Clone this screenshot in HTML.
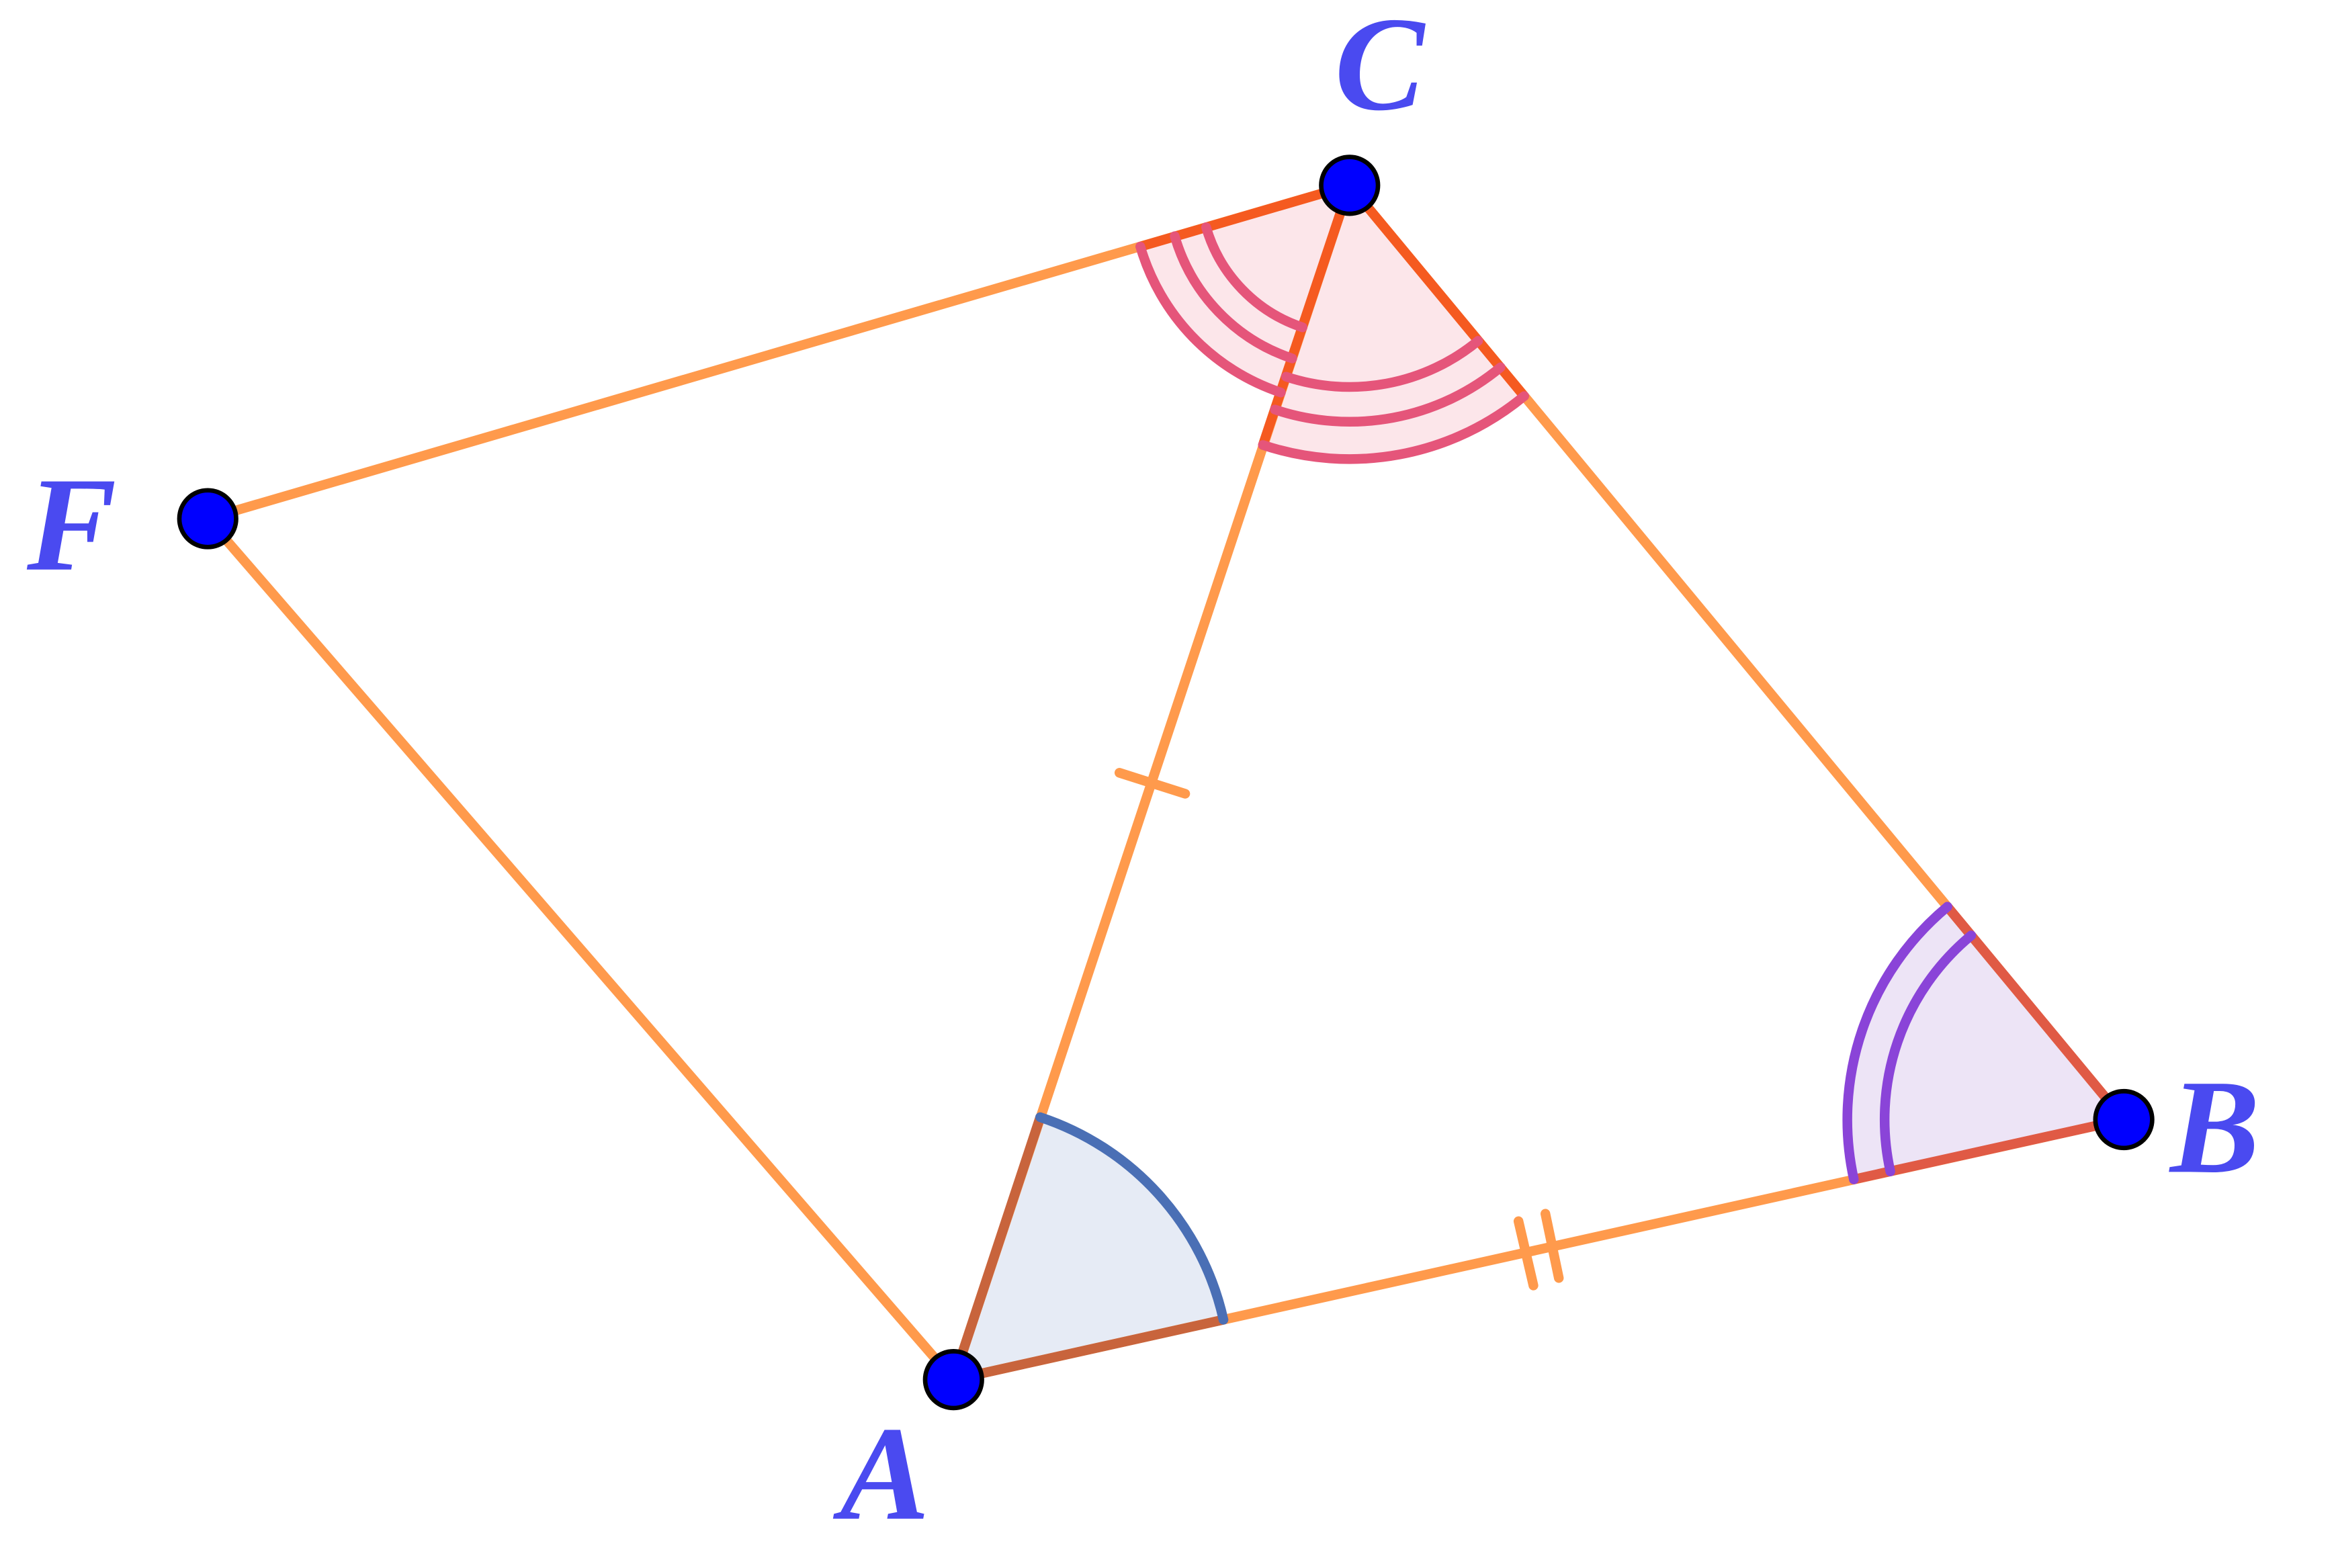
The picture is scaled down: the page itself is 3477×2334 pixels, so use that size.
<!DOCTYPE html>
<html><head><style>html,body{margin:0;padding:0;background:#fff}svg{display:block}</style></head>
<body>
<svg width="3477" height="2334" viewBox="0 0 1563 1049" preserveAspectRatio="none" xmlns="http://www.w3.org/2000/svg">
<g stroke-linecap="round" fill="none">
<path d="M638,923 L696,747.4 A185,185 0 0 1 818.6,882.9 Z" fill="#e6ebf5" stroke="none"/>
<path d="M1421,749 L1303,606.6 A185,185 0 0 0 1240.4,789 Z" fill="#ede4f6" stroke="none"/>
<path d="M903,124 L763,165 A146,146 0 0 0 857,262.6 Z" fill="#fce6ea" stroke="none"/>
<path d="M903,124 L845,297.7 A183,183 0 0 0 1019.8,265 Z" fill="#fce6ea" stroke="none"/>
<g stroke="#ff9a4c" stroke-width="6.5">
<line x1="903" y1="124" x2="139" y2="347"/>
<line x1="139" y1="347" x2="638" y2="923"/>
<line x1="638" y1="923" x2="1421" y2="749"/>
<line x1="1421" y1="749" x2="903" y2="124"/>
<line x1="638" y1="923" x2="903" y2="124"/>
</g>
<g stroke="#f55a20" stroke-width="6.5">
<line x1="903" y1="124" x2="763" y2="165"/>
<line x1="903" y1="124" x2="845" y2="297.7"/>
<line x1="903" y1="124" x2="1019.8" y2="265"/>
</g>
<g stroke="#c8643c" stroke-width="6.5">
<line x1="638" y1="923" x2="696" y2="747.4"/>
<line x1="638" y1="923" x2="818.6" y2="882.9"/>
</g>
<g stroke="#e05a45" stroke-width="6.5">
<line x1="1421" y1="749" x2="1303" y2="606.6"/>
<line x1="1421" y1="749" x2="1240.4" y2="789"/>
</g>
<path d="M696,747.4 A185,185 0 0 1 818.6,882.9" stroke="#4a6fb5" stroke-width="6.5"/>
<g stroke="#8a44d8" stroke-width="6.5">
<path d="M1303,606.6 A185,185 0 0 0 1240.4,789"/>
<path d="M1318.9,625.8 A160,160 0 0 0 1264.8,783.7"/>
</g>
<g stroke="#e5557a" stroke-width="6.5">
<path d="M807,152 A100,100 0 0 0 871.5,219"/>
<path d="M786,158 A122,122 0 0 0 864.6,239.8"/>
<path d="M763,165 A146,146 0 0 0 857,262.6"/>
<path d="M860.5,252 A135,135 0 0 0 989,228"/>
<path d="M853,274 A158,158 0 0 0 1004,245.7"/>
<path d="M845,297.7 A183,183 0 0 0 1019.8,265"/>
</g>
<g stroke="#ff9a4c" stroke-width="6.5">
<line x1="749" y1="517" x2="793" y2="531"/>
<line x1="1016" y1="817" x2="1026" y2="860"/>
<line x1="1034" y1="812" x2="1043" y2="855"/>
</g>
</g>
<g fill="#0000ff" stroke="#000" stroke-width="3">
<circle cx="903" cy="124" r="19"/>
<circle cx="139" cy="347" r="19"/>
<circle cx="638" cy="923" r="19"/>
<circle cx="1421" cy="749" r="19"/>
</g>
<g font-family="Liberation Serif, serif" font-style="italic" font-weight="bold" font-size="90" fill="#4a4af0">
<text x="893" y="73">C</text>
<text x="18" y="381">F</text>
<text x="562" y="1016">A</text>
<text x="1452" y="784">B</text>
</g>
</svg>
</body></html>
